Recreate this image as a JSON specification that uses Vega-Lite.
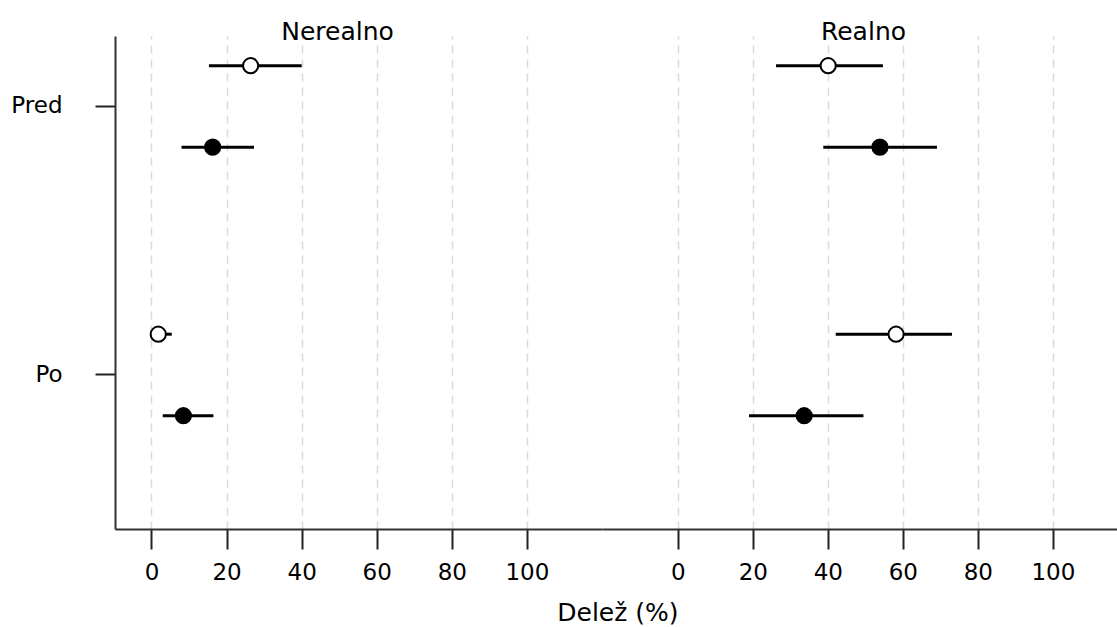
{
  "$schema": "https://vega.github.io/schema/vega-lite/v6.json",
  "background": "white",
  "padding": {"left": 10, "top": 20, "right": 0, "bottom": 0},
  "title": {"text": "Delež (%)", "orient": "bottom", "anchor": "middle", "baseline": "top", "offset": 17, "dx": 54},
  "data": {"values": [
    {"panel": "Nerealno", "cas": "Pred", "skupina": "A", "delez": 26.4, "spodnja": 15.3, "zgornja": 40.0},
    {"panel": "Nerealno", "cas": "Pred", "skupina": "B", "delez": 16.3, "spodnja": 8.0, "zgornja": 27.3},
    {"panel": "Nerealno", "cas": "Po", "skupina": "A", "delez": 1.8, "spodnja": 0.0, "zgornja": 5.4},
    {"panel": "Nerealno", "cas": "Po", "skupina": "B", "delez": 8.5, "spodnja": 3.0, "zgornja": 16.5},
    {"panel": "Realno", "cas": "Pred", "skupina": "A", "delez": 40.1, "spodnja": 26.2, "zgornja": 54.7},
    {"panel": "Realno", "cas": "Pred", "skupina": "B", "delez": 53.9, "spodnja": 38.8, "zgornja": 69.1},
    {"panel": "Realno", "cas": "Po", "skupina": "A", "delez": 58.2, "spodnja": 42.1, "zgornja": 73.1},
    {"panel": "Realno", "cas": "Po", "skupina": "B", "delez": 33.7, "spodnja": 19.0, "zgornja": 49.5}
  ]},
  "spacing": 0,
  "bounds": "flush",
  "hconcat": [
    {
      "width": 487,
      "height": 493,
      "title": {"text": "Nerealno", "dx": -21},
      "transform": [{"filter": {"field": "panel", "equal": "Nerealno"}}],
      "encoding": {
        "y": {"field": "cas", "type": "nominal", "sort": ["Pred", "Po"], "title": null,
          "scale": {"type": "band", "domain": ["Pred", "Po"], "paddingInner": 0.6965, "paddingOuter": 0.2663, "align": 0.2077, "round": false},
          "axis": {"tickSize": 20, "tickWidth": 2, "tickColor": "#222", "labelPadding": 33, "domainWidth": 2, "domainColor": "#333", "labelAngle": 0, "grid": false}},
        "yOffset": {"field": "skupina", "type": "nominal", "sort": ["A", "B"], "scale": {"type": "point", "padding": 0, "domain": ["A", "B"]}}
      },
      "layer": [
        {
          "mark": {"type": "rule", "strokeWidth": 3, "color": "black"},
          "encoding": {
            "x": {"field": "spodnja", "type": "quantitative", "title": null,
              "scale": {"domain": [-9.72, 120.0], "nice": false, "zero": false},
              "axis": {"values": [0, 20, 40, 60, 80, 100], "grid": true, "gridDash": [8, 6], "gridColor": "#d9d9d9", "gridWidth": 1.5, "tickSize": 20, "tickWidth": 2, "tickColor": "#222", "domainColor": "#333", "domainWidth": 2, "labelPadding": 12, "labelOverlap": false, "labelFlush": false}},
            "x2": {"field": "zgornja"}
          }
        },
        {
          "mark": {"type": "point", "shape": "circle", "filled": true, "size": 230, "stroke": "black", "strokeWidth": 2, "opacity": 1},
          "encoding": {
            "x": {"field": "delez", "type": "quantitative", "title": null},
            "fill": {"field": "skupina", "type": "nominal", "scale": {"domain": ["A", "B"], "range": ["white", "black"]}, "legend": null}
          }
        }
      ]
    },
    {
      "width": 515,
      "height": 493,
      "title": {"text": "Realno", "dx": 4},
      "transform": [{"filter": {"field": "panel", "equal": "Realno"}}],
      "encoding": {
        "y": {"field": "cas", "type": "nominal", "sort": ["Pred", "Po"], "title": null,
          "scale": {"type": "band", "domain": ["Pred", "Po"], "paddingInner": 0.6965, "paddingOuter": 0.2663, "align": 0.2077, "round": false},
          "axis": null},
        "yOffset": {"field": "skupina", "type": "nominal", "sort": ["A", "B"], "scale": {"type": "point", "padding": 0, "domain": ["A", "B"]}}
      },
      "layer": [
        {
          "mark": {"type": "rule", "strokeWidth": 3, "color": "black"},
          "encoding": {
            "x": {"field": "spodnja", "type": "quantitative", "title": null,
              "scale": {"domain": [-20.2, 117.1], "nice": false, "zero": false},
              "axis": {"values": [0, 20, 40, 60, 80, 100], "grid": true, "gridDash": [8, 6], "gridColor": "#d9d9d9", "gridWidth": 1.5, "tickSize": 20, "tickWidth": 2, "tickColor": "#222", "domainColor": "#333", "domainWidth": 2, "labelPadding": 12, "labelOverlap": false, "labelFlush": false}},
            "x2": {"field": "zgornja"}
          }
        },
        {
          "mark": {"type": "point", "shape": "circle", "filled": true, "size": 230, "stroke": "black", "strokeWidth": 2, "opacity": 1},
          "encoding": {
            "x": {"field": "delez", "type": "quantitative", "title": null},
            "fill": {"field": "skupina", "type": "nominal", "scale": {"domain": ["A", "B"], "range": ["white", "black"]}, "legend": null}
          }
        }
      ]
    }
  ],
  "config": {
    "view": {"stroke": null},
    "axis": {"labelFont": "DejaVu Sans", "labelFontSize": 23, "labelColor": "black"},
    "title": {"font": "DejaVu Sans", "fontSize": 25, "fontWeight": "normal", "color": "black", "baseline": "alphabetic", "offset": -9, "anchor": "middle"}
  }
}
